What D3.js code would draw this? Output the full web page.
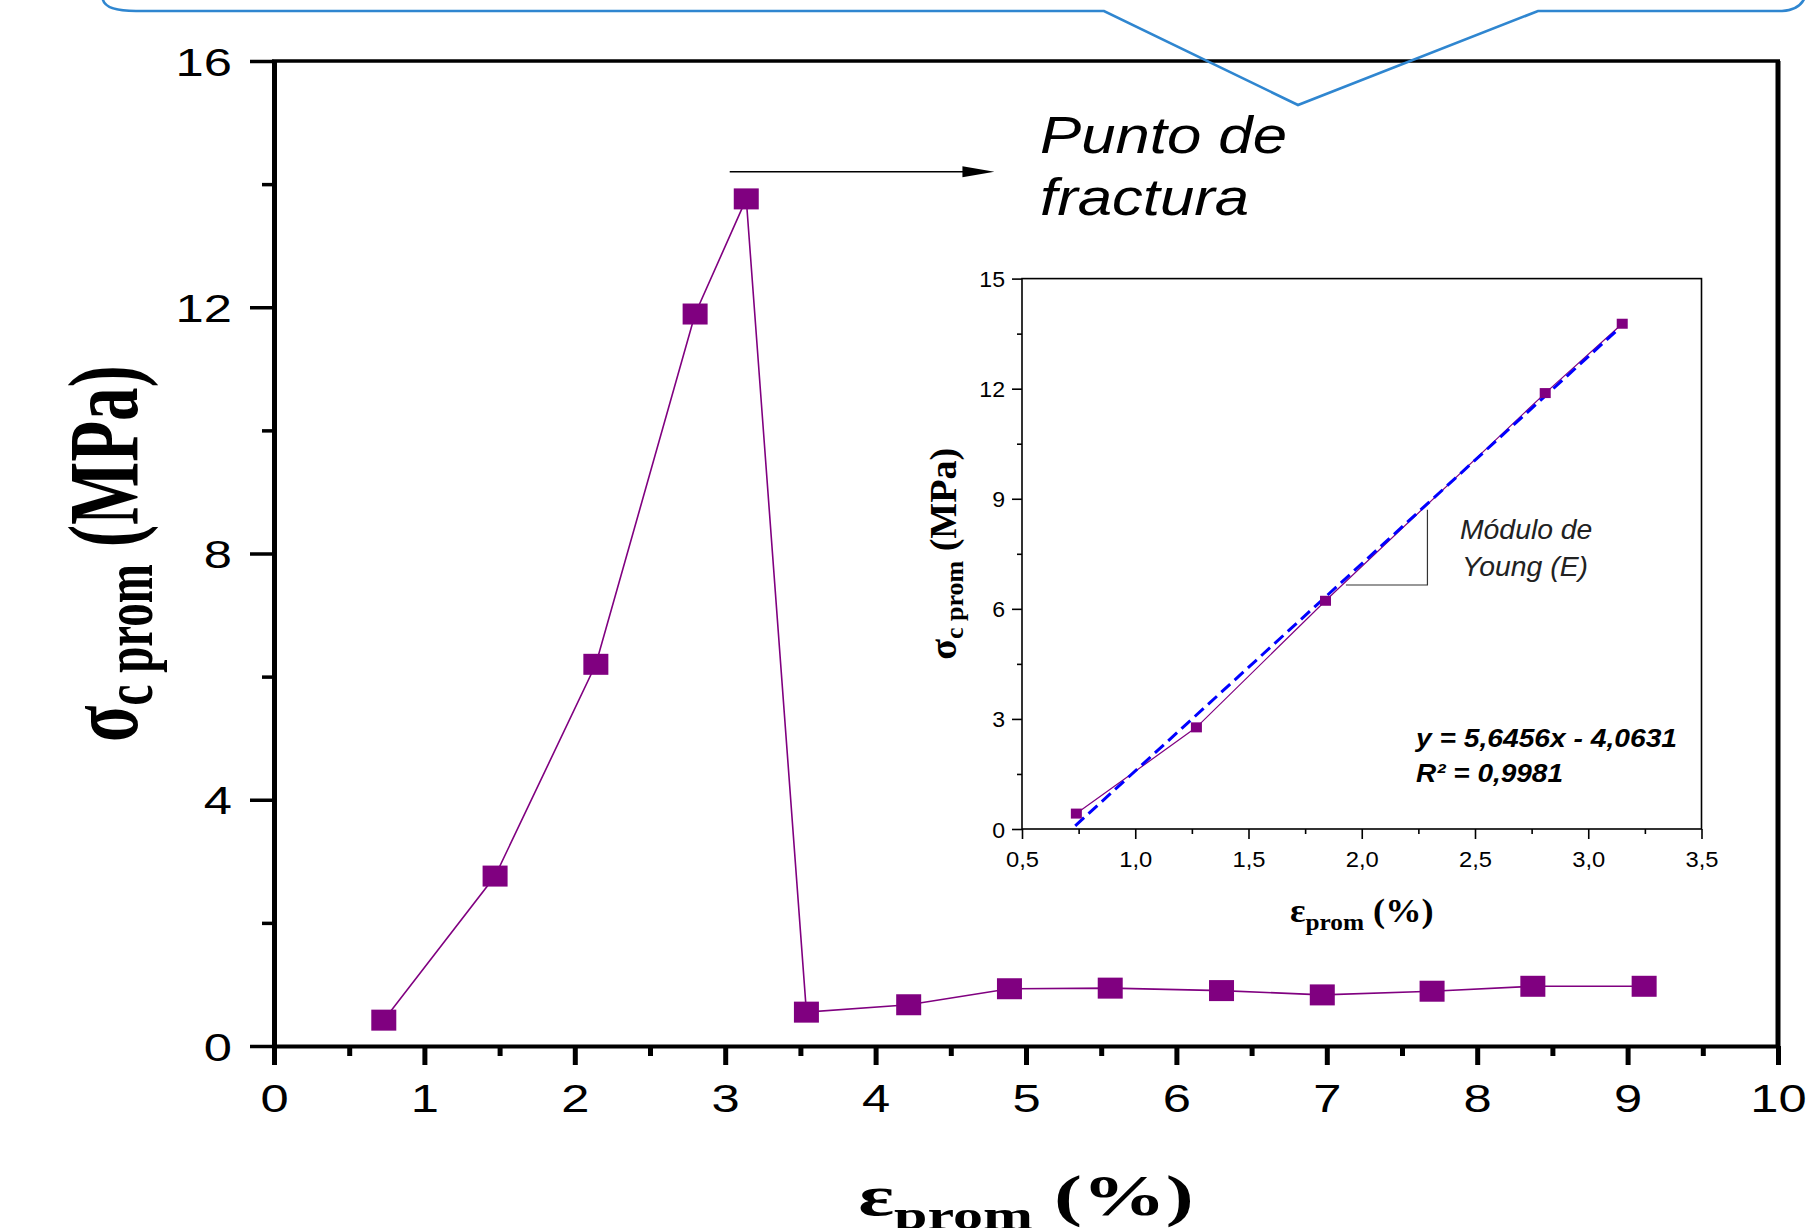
<!DOCTYPE html>
<html><head><meta charset="utf-8">
<script src="https://cdn.jsdelivr.net/npm/d3@7"></script>
<style>body{margin:0;background:#fff;overflow:hidden}</style>
</head><body>
<svg id="c" width="1812" height="1228" xmlns="http://www.w3.org/2000/svg"></svg>
<script>
// ---------- data ----------
const mainStrain = [0.73, 1.47, 2.14, 2.80, 3.14, 3.54, 4.22, 4.89, 5.56, 6.30, 6.97, 7.70, 8.37, 9.11];
const mainStress = [0.42, 2.76, 6.20, 11.89, 13.76, 0.55, 0.67, 0.93, 0.94, 0.90, 0.83, 0.89, 0.97, 0.97];
const mainXTicks = [0, 1, 2, 3, 4, 5, 6, 7, 8, 9, 10];
const mainXMinor = [0.5, 1.5, 2.5, 3.5, 4.5, 5.5, 6.5, 7.5, 8.5, 9.5];
const mainYTicks = [0, 4, 8, 12, 16];
const mainYMinor = [2, 6, 10, 14];
const insetStrain = [0.74, 1.27, 1.84, 2.81, 3.15];
const insetStress = [0.42, 2.77, 6.22, 11.88, 13.77];
const insetXTicks = [0.5, 1.0, 1.5, 2.0, 2.5, 3.0, 3.5];
const insetXMinor = [0.75, 1.25, 1.75, 2.25, 2.75, 3.25];
const insetYTicks = [0, 3, 6, 9, 12, 15];
const insetYMinor = [1.5, 4.5, 7.5, 10.5, 13.5];
const fitCoef = [5.6456, -4.0631];       // slope, intercept
const fitRange = [0.735, 3.12];
const fitLabels = ["y = 5,6456x - 4,0631", "R² = 0,9981"];
const youngLabels = ["Módulo de", "Young (E)"];
const fractureLabels = ["Punto de", "fractura"];
const youngTriangle = [[1.93, 6.65], [2.29, 6.65], [2.29, 8.7]];
const arrowStrain = [3.03, 4.79];
const arrowStress = 14.2;

// ---------- setup ----------
const svg = d3.select("#c");
const SANS = "'Liberation Sans', Arial, sans-serif";
const SERIF = "'Liberation Serif', 'Times New Roman', serif";
const PURPLE = "#800080";
svg.append("rect").attr("width", 1812).attr("height", 1228).attr("fill", "#fff");

const x = d3.scaleLinear([0, 10], [274, 1778]);
const y = d3.scaleLinear([0, 16], [1046, 61]);
const ix = d3.scaleLinear([0.5, 3.5], [1022, 1701.5]);
const iy = d3.scaleLinear([0, 15], [829, 278.6]);
const comma = d => d.toFixed(1).replace(".", ",");

// ---------- main axes ----------
const gx = svg.append("g").attr("transform", `translate(0,${y(0)})`)
  .call(d3.axisBottom(x).tickValues(mainXTicks).tickSize(19).tickSizeOuter(0).tickFormat(d => d));
gx.select(".domain").attr("stroke-width", 4).attr("stroke", "#000");
gx.selectAll(".tick line").attr("stroke-width", 5).attr("stroke", "#000");
gx.selectAll(".tick text").attr("x", null).attr("y", null).attr("dy", null)
  .attr("transform", "translate(0,66) scale(1.3,1)")
  .attr("font-family", SANS).attr("font-size", 39).attr("fill", "#000").attr("text-anchor", "middle");
const gxm = svg.append("g").attr("transform", `translate(0,${y(0)})`)
  .call(d3.axisBottom(x).tickValues(mainXMinor).tickSize(10).tickSizeOuter(0).tickFormat(""));
gxm.select(".domain").remove();
gxm.selectAll(".tick line").attr("stroke-width", 5).attr("stroke", "#000");

const gy = svg.append("g").attr("transform", `translate(${x(0)},0)`)
  .call(d3.axisLeft(y).tickValues(mainYTicks).tickSize(24).tickSizeOuter(0).tickFormat(d => d));
gy.select(".domain").attr("stroke-width", 5).attr("stroke", "#000");
gy.selectAll(".tick line").attr("stroke-width", 3.5).attr("stroke", "#000");
gy.selectAll(".tick text").attr("x", null).attr("y", null).attr("dy", null)
  .attr("transform", "translate(-42,14) scale(1.3,1)")
  .attr("font-family", SANS).attr("font-size", 39).attr("fill", "#000").attr("text-anchor", "end");
const gym = svg.append("g").attr("transform", `translate(${x(0)},0)`)
  .call(d3.axisLeft(y).tickValues(mainYMinor).tickSize(12).tickSizeOuter(0).tickFormat(""));
gym.select(".domain").remove();
gym.selectAll(".tick line").attr("stroke-width", 3.5).attr("stroke", "#000");

// frame top & right
svg.append("line").attr("x1", x(0) - 2).attr("x2", x(10) + 2).attr("y1", y(16)).attr("y2", y(16))
  .attr("stroke", "#000").attr("stroke-width", 3.5);
svg.append("line").attr("x1", x(10)).attr("x2", x(10)).attr("y1", y(16)).attr("y2", y(0))
  .attr("stroke", "#000").attr("stroke-width", 5);

// axis titles
const yt = svg.append("text")
  .attr("transform", `translate(137,${(y(0) + y(16)) / 2}) rotate(-90) scale(1,1.5)`)
  .attr("text-anchor", "middle").attr("font-family", SERIF).attr("font-weight", "bold")
  .attr("font-size", 67).attr("fill", "#000");
yt.append("tspan").text("σ");
yt.append("tspan").attr("font-size", 47).attr("dy", 10).text("c prom");
yt.append("tspan").attr("dy", -10).text(" (MPa)");

const xt = svg.append("text")
  .attr("transform", `translate(${(x(0) + x(10)) / 2},1215) scale(1.5,1)`)
  .attr("text-anchor", "middle").attr("font-family", SERIF).attr("font-weight", "bold")
  .attr("font-size", 56).attr("fill", "#000");
xt.append("tspan").text("ε");
xt.append("tspan").attr("font-size", 40).attr("dy", 14).text("prom");
xt.append("tspan").attr("dy", -14).text(" (%)");

// main series
const mainPts = mainStrain.map((d, i) => [d, mainStress[i]]);
svg.append("path").datum(mainPts)
  .attr("d", d3.line().x(d => x(d[0])).y(d => y(d[1])))
  .attr("fill", "none").attr("stroke", PURPLE).attr("stroke-width", 1.6);
svg.append("g").selectAll("rect").data(mainPts).join("rect")
  .attr("x", d => x(d[0]) - 12.5).attr("y", d => y(d[1]) - 10.5)
  .attr("width", 25).attr("height", 21).attr("fill", PURPLE);

// fracture arrow + label
const ay = y(arrowStress);
svg.append("line").attr("x1", x(arrowStrain[0])).attr("x2", x(arrowStrain[1]) - 30)
  .attr("y1", ay).attr("y2", ay).attr("stroke", "#000").attr("stroke-width", 1.6);
svg.append("path")
  .attr("d", `M${x(arrowStrain[1]) - 32},${ay - 5.5} L${x(arrowStrain[1])},${ay} L${x(arrowStrain[1]) - 32},${ay + 5.5} Z`)
  .attr("fill", "#000");
fractureLabels.forEach((t, i) => {
  svg.append("text").attr("transform", `translate(1040,${153 + i * 62}) scale(1.21,1)`)
    .attr("font-family", SANS).attr("font-style", "italic").attr("font-size", 51)
    .attr("fill", "#000").text(t);
});

// ---------- inset ----------
const ig = svg.append("g");
ig.append("rect").attr("x", ix(0.5)).attr("y", iy(15)).attr("width", ix(3.5) - ix(0.5))
  .attr("height", iy(0) - iy(15)).attr("fill", "none").attr("stroke", "#000").attr("stroke-width", 1.6);

const igx = ig.append("g").attr("transform", `translate(0,${iy(0)})`)
  .call(d3.axisBottom(ix).tickValues(insetXTicks).tickSize(10).tickSizeOuter(0).tickFormat(comma));
igx.select(".domain").remove();
igx.selectAll(".tick line").attr("stroke-width", 1.6).attr("stroke", "#000");
igx.selectAll(".tick text").attr("x", null).attr("y", null).attr("dy", null)
  .attr("transform", "translate(0,38) scale(1.08,1)")
  .attr("font-family", SANS).attr("font-size", 22).attr("fill", "#000").attr("text-anchor", "middle");
const igxm = ig.append("g").attr("transform", `translate(0,${iy(0)})`)
  .call(d3.axisBottom(ix).tickValues(insetXMinor).tickSize(5).tickSizeOuter(0).tickFormat(""));
igxm.select(".domain").remove();
igxm.selectAll(".tick line").attr("stroke-width", 1.6).attr("stroke", "#000");

const igy = ig.append("g").attr("transform", `translate(${ix(0.5)},0)`)
  .call(d3.axisLeft(iy).tickValues(insetYTicks).tickSize(10).tickSizeOuter(0).tickFormat(d => d));
igy.select(".domain").remove();
igy.selectAll(".tick line").attr("stroke-width", 1.6).attr("stroke", "#000");
igy.selectAll(".tick text").attr("x", null).attr("y", null).attr("dy", null)
  .attr("transform", "translate(-17,8) scale(1.05,1)")
  .attr("font-family", SANS).attr("font-size", 22).attr("fill", "#000").attr("text-anchor", "end");
const igym = ig.append("g").attr("transform", `translate(${ix(0.5)},0)`)
  .call(d3.axisLeft(iy).tickValues(insetYMinor).tickSize(5).tickSizeOuter(0).tickFormat(""));
igym.select(".domain").remove();
igym.selectAll(".tick line").attr("stroke-width", 1.6).attr("stroke", "#000");

// inset titles
const iyt = ig.append("text")
  .attr("transform", `translate(956,${(iy(0) + iy(15)) / 2}) rotate(-90)`)
  .attr("text-anchor", "middle").attr("font-family", SERIF).attr("font-weight", "bold")
  .attr("font-size", 38).attr("fill", "#000");
iyt.append("tspan").text("σ");
iyt.append("tspan").attr("font-size", 26).attr("dy", 7).text("c prom");
iyt.append("tspan").attr("dy", -7).text(" (MPa)");

const ixt = ig.append("text")
  .attr("transform", `translate(${(ix(0.5) + ix(3.5)) / 2},922) scale(1.1,1)`)
  .attr("text-anchor", "middle").attr("font-family", SERIF).attr("font-weight", "bold")
  .attr("font-size", 33).attr("fill", "#000");
ixt.append("tspan").text("ε");
ixt.append("tspan").attr("font-size", 23).attr("dy", 8).text("prom");
ixt.append("tspan").attr("dy", -8).text(" (%)");

// inset series
const insetPts = insetStrain.map((d, i) => [d, insetStress[i]]);
ig.append("path").datum(insetPts)
  .attr("d", d3.line().x(d => ix(d[0])).y(d => iy(d[1])))
  .attr("fill", "none").attr("stroke", PURPLE).attr("stroke-width", 1.2);
// fit line
ig.append("line")
  .attr("x1", ix(fitRange[0])).attr("y1", iy(fitCoef[0] * fitRange[0] + fitCoef[1]))
  .attr("x2", ix(fitRange[1])).attr("y2", iy(fitCoef[0] * fitRange[1] + fitCoef[1]))
  .attr("stroke", "#0000ff").attr("stroke-width", 3).attr("stroke-dasharray", "12,6");
ig.append("g").selectAll("rect").data(insetPts).join("rect")
  .attr("x", d => ix(d[0]) - 5.5).attr("y", d => iy(d[1]) - 5)
  .attr("width", 11).attr("height", 10).attr("fill", PURPLE);

// Young triangle
ig.append("path").datum(youngTriangle)
  .attr("d", d3.line().x(d => ix(d[0])).y(d => iy(d[1])))
  .attr("fill", "none").attr("stroke", "#333").attr("stroke-width", 1.2);
youngLabels.forEach((t, i) => {
  ig.append("text").attr("transform", `translate(${1460 + i * 2},${539 + i * 37}) scale(1.05,1)`)
    .attr("font-family", SANS).attr("font-style", "italic").attr("font-size", 27)
    .attr("fill", "#222").text(t);
});
const fitW = [261, 147];
fitLabels.forEach((t, i) => {
  ig.append("text").attr("x", 1416).attr("y", 747 + i * 35)
    .attr("font-family", SANS).attr("font-style", "italic").attr("font-weight", "bold")
    .attr("font-size", 25).attr("fill", "#000")
    .attr("textLength", fitW[i]).attr("lengthAdjust", "spacingAndGlyphs").text(t);
});

// ---------- callout outline at top ----------
const callout = d3.path();
callout.moveTo(103, -5);
callout.lineTo(103, 0);
callout.quadraticCurveTo(106, 11, 136, 11);
callout.lineTo(1104, 11);
callout.lineTo(1298, 105);
callout.lineTo(1538, 11);
callout.lineTo(1782, 11);
callout.quadraticCurveTo(1800, 10, 1805, -3);
svg.append("path").attr("d", callout.toString()).attr("fill", "none")
  .attr("stroke", "#2f86d0").attr("stroke-width", 2.6);
</script>
</body></html>
